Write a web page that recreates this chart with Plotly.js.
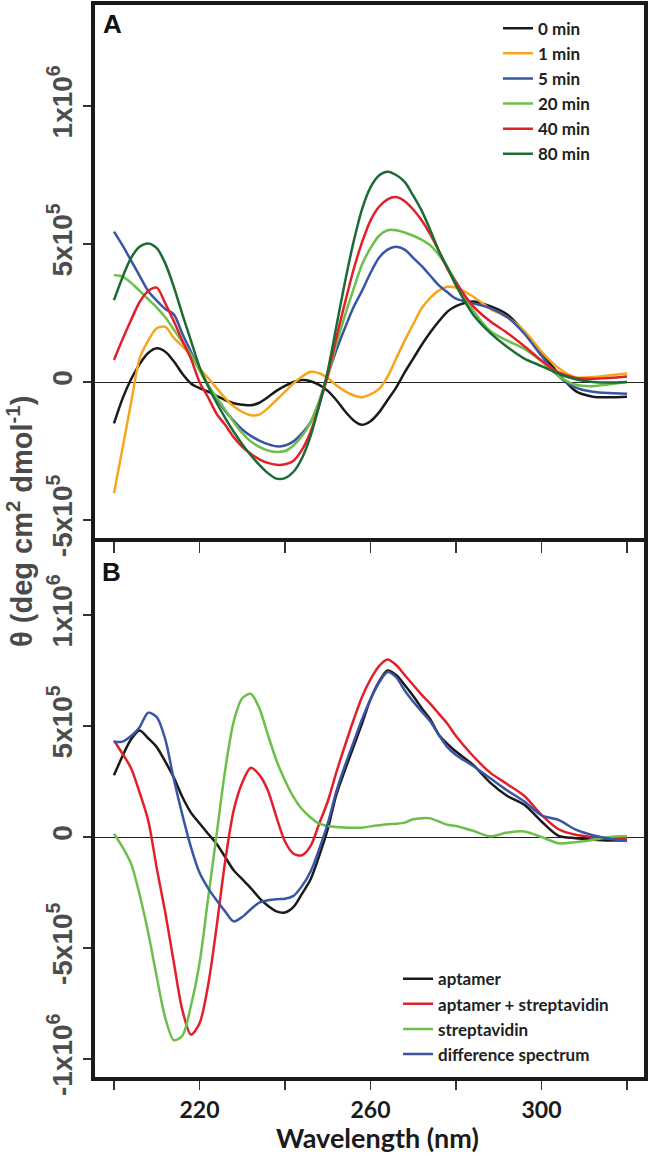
<!DOCTYPE html>
<html>
<head>
<meta charset="utf-8">
<script src="https://cdn.plot.ly/plotly-3.0.1.min.js"></script>
<style>
  html, body { margin: 0; padding: 0; background: #ffffff; }
  #chart { width: 650px; height: 1156px; }
</style>
</head>
<body>
<div id="chart"></div>
<script>
// Wavelength grid (nm)
const wavelength = [200,202,204,206,208,210,212,214,216,218,220,222,224,226,228,230,232,234,236,238,240,
  242,244,246,248,250,252,254,256,258,260,262,264,266,268,270,272,274,276,278,280,
  284,288,292,296,300,304,308,312,316,320];

// Panel A: ellipticity (x10^5 deg cm2 dmol-1) at each incubation time
const timeLabels = ['0 min', '1 min', '5 min', '20 min', '40 min', '80 min'];
const min0 = [-1.5,-0.6,0.1,0.65,1.05,1.22,1.1,0.75,0.3,-0.05,-0.22,-0.35,-0.5,-0.65,-0.77,-0.82,-0.84,-0.75,-0.55,-0.32,-0.14,
  0.0,0.07,0.03,-0.1,-0.32,-0.65,-1.05,-1.38,-1.55,-1.42,-1.1,-0.65,-0.2,0.35,0.85,1.35,1.8,2.2,2.55,2.75,
  2.92,2.75,2.45,1.82,1.08,0.3,-0.33,-0.53,-0.55,-0.53];
const min1 = [-4.03,-2.4,-0.75,0.85,1.5,1.95,2.0,1.6,1.3,0.95,0.5,0.15,-0.22,-0.58,-0.88,-1.08,-1.2,-1.18,-0.95,-0.65,-0.35,
  -0.05,0.2,0.37,0.32,0.15,-0.12,-0.33,-0.48,-0.55,-0.45,-0.25,0.2,0.85,1.5,2.1,2.68,3.05,3.32,3.45,3.42,
  3.1,2.65,2.35,1.85,1.1,0.5,0.17,0.18,0.25,0.31];
const min5 = [5.45,4.95,4.4,3.85,3.3,2.95,2.65,2.45,1.75,1.1,0.45,-0.1,-0.6,-1.05,-1.4,-1.72,-1.95,-2.12,-2.25,-2.33,-2.3,
  -2.15,-1.85,-1.45,-0.7,0.25,1.15,1.95,2.7,3.3,3.95,4.5,4.8,4.9,4.8,4.5,4.2,3.85,3.5,3.25,3.02,
  2.85,2.68,2.35,1.75,0.95,0.22,-0.2,-0.35,-0.4,-0.42];
const min20 = [3.88,3.82,3.6,3.3,3.0,2.7,2.35,1.9,1.45,1.0,0.42,-0.12,-0.55,-1.0,-1.45,-1.85,-2.15,-2.35,-2.48,-2.53,-2.5,
  -2.3,-1.95,-1.45,-0.7,0.2,1.35,2.4,3.35,4.25,4.85,5.3,5.5,5.5,5.42,5.3,5.15,4.95,4.6,4.15,3.65,
  2.6,1.85,1.5,1.2,0.75,0.22,-0.1,-0.15,-0.08,0.0];
const min40 = [0.8,1.55,2.25,2.9,3.3,3.42,2.85,2.2,1.5,0.85,0.0,-0.55,-1.15,-1.55,-2.0,-2.35,-2.6,-2.8,-2.93,-3.0,-2.98,
  -2.85,-2.45,-1.8,-0.85,0.25,1.6,2.85,4.05,5.05,5.85,6.35,6.62,6.7,6.55,6.25,5.85,5.35,4.75,4.1,3.6,
  2.75,2.2,1.78,1.3,0.78,0.35,0.15,0.12,0.15,0.2];
const min80 = [2.97,3.8,4.5,4.9,5.02,4.85,4.3,3.45,2.45,1.5,0.55,-0.15,-0.75,-1.3,-1.8,-2.25,-2.65,-3.0,-3.3,-3.5,-3.48,
  -3.25,-2.75,-1.95,-0.85,0.4,2.0,3.6,5.05,6.25,7.05,7.48,7.62,7.5,7.25,6.75,6.2,5.5,4.75,4.15,3.5,
  2.45,1.78,1.27,0.85,0.58,0.3,0.1,0.0,-0.02,0.0];

// Panel B: aptamer / streptavidin spectra (x10^5)
const sampleLabels = ['aptamer', 'aptamer + streptavidin', 'streptavidin', 'difference spectrum'];
const aptamer = [2.78,3.65,4.4,4.8,4.45,4.05,3.4,2.68,1.8,1.1,0.62,0.15,-0.3,-0.9,-1.5,-1.9,-2.3,-2.75,-3.1,-3.35,-3.4,
  -3.15,-2.55,-1.9,-0.85,0.35,1.9,3.0,4.05,5.1,6.2,7.0,7.5,7.3,6.85,6.35,5.8,5.3,4.6,4.2,3.85,
  3.25,2.45,1.85,1.45,0.7,0.05,-0.05,-0.12,-0.16,-0.15];
const aptStrep = [4.35,3.75,3.1,2.0,0.75,-1.4,-3.4,-5.65,-7.8,-8.9,-8.4,-6.7,-4.05,-1.1,1.2,2.45,3.12,2.8,2.1,0.9,-0.2,
  -0.75,-0.82,-0.4,0.6,1.6,2.9,4.1,5.25,6.3,7.1,7.7,8.0,7.75,7.3,6.85,6.4,6.0,5.55,5.1,4.55,
  3.65,2.9,2.38,1.85,1.0,0.35,0.1,0.0,-0.08,-0.08];
const strep = [0.15,-0.45,-1.2,-2.6,-4.3,-6.3,-8.15,-9.15,-8.95,-7.6,-5.7,-2.8,0.1,3.0,5.2,6.25,6.45,5.8,4.6,3.45,2.55,
  1.8,1.25,0.88,0.6,0.5,0.45,0.43,0.42,0.42,0.48,0.53,0.58,0.6,0.65,0.8,0.85,0.84,0.7,0.55,0.5,
  0.28,0.03,0.2,0.25,0.0,-0.28,-0.23,-0.13,0.0,0.03];
const difference = [4.28,4.3,4.55,4.95,5.6,5.4,4.4,2.6,1.0,-0.45,-1.6,-2.3,-2.85,-3.35,-3.8,-3.6,-3.25,-2.95,-2.85,-2.8,-2.78,
  -2.65,-2.2,-1.55,-0.55,0.6,2.05,3.2,4.25,5.3,6.2,6.95,7.43,7.2,6.6,6.1,5.65,5.2,4.6,4.05,3.7,
  3.2,2.65,2.1,1.6,0.98,0.77,0.33,0.08,-0.08,-0.18];

const xTickValsA = [200,220,240,260,280,300,320];
const xTickValsB = [220,260,300];
const xTickTextB = ['220','260','300'];
const yTickValsA = [-5,0,5,10];
const yTickTextA = ['-5x10<sup>5</sup>','0','5x10<sup>5</sup>','1x10<sup>6</sup>'];
const yTickValsB = [-10,-5,0,5,10];
const yTickTextB = ['-1x10<sup>6</sup>','-5x10<sup>5</sup>','0','5x10<sup>5</sup>','1x10<sup>6</sup>'];

const colorsA = ['#1a1a1a','#f7a51c','#3a55a5','#6cbf4a','#e2202a','#1c6b35'];
const colorsB = ['#1a1a1a','#e2202a','#6cbf4a','#3a55a5'];

const seriesA = [min0, min1, min5, min20, min40, min80];
const seriesB = [aptamer, aptStrep, strep, difference];

const traces = [];
seriesA.forEach((ys, i) => {
  traces.push({
    x: wavelength, y: ys, type: 'scatter', mode: 'lines', name: timeLabels[i],
    xaxis: 'x', yaxis: 'y', legend: 'legend', legendgroup: 'a' + i,
    line: { color: colorsA[i], width: 2.5, shape: 'spline', smoothing: 0.8 },
    hoverinfo: 'skip'
  });
});
seriesB.forEach((ys, i) => {
  traces.push({
    x: wavelength, y: ys, type: 'scatter', mode: 'lines', name: sampleLabels[i],
    xaxis: 'x2', yaxis: 'y2', legend: 'legend2', legendgroup: 'b' + i,
    line: { color: colorsB[i], width: 2.5, shape: 'spline', smoothing: 0.8 },
    hoverinfo: 'skip'
  });
});

const frame = '#1a1a1a';
const split = 0.5028;
const xRange = [195.56, 323.98];
const legendFont = { family: 'Lato, sans-serif', size: 17, weight: 'bold', color: '#222' };

const layout = {
  width: 650, height: 1156,
  margin: { l: 95, r: 6, t: 5, b: 79 },
  paper_bgcolor: '#ffffff', plot_bgcolor: '#ffffff',
  showlegend: true,
  xaxis: {
    domain: [0, 1], range: xRange, anchor: 'y',
    showline: true, linewidth: 4, linecolor: frame, mirror: true,
    ticks: 'outside', ticklen: 11, tickwidth: 1.5, tickcolor: '#333',
    tickvals: xTickValsA, showticklabels: false, showgrid: false, zeroline: false
  },
  yaxis: {
    domain: [split, 1], range: [-5.65, 13.66], anchor: 'x',
    showline: true, linewidth: 4, linecolor: frame, mirror: true,
    ticks: 'outside', ticklen: 8, tickwidth: 1.5, tickcolor: '#333',
    tickmode: 'array', tickvals: yTickValsA, ticktext: yTickTextA, tickangle: -90,
    tickfont: { family: 'Liberation Sans', size: 28, weight: 'bold', color: '#4d4d4d' },
    showgrid: false, zeroline: true, zerolinecolor: '#222', zerolinewidth: 1
  },
  xaxis2: {
    domain: [0, 1], range: xRange, anchor: 'y2',
    showline: true, linewidth: 4, linecolor: frame, mirror: false,
    ticks: 'outside', ticklen: 9, tickwidth: 1.5, tickcolor: '#333',
    tickvals: xTickValsB, ticktext: xTickTextB,
    minor: { tickvals: xTickValsA, ticks: 'outside', ticklen: 9, tickwidth: 1.5, tickcolor: '#333', showgrid: false },
    tickfont: { family: 'Lato, sans-serif', size: 23, weight: 'bold', color: '#1a1a1a' },
    showgrid: false, zeroline: false
  },
  yaxis2: {
    domain: [0, split], range: [-10.81, 13.47], anchor: 'x2',
    showline: true, linewidth: 4, linecolor: frame, mirror: true,
    ticks: 'outside', ticklen: 8, tickwidth: 1.5, tickcolor: '#333',
    tickmode: 'array', tickvals: yTickValsB, ticktext: yTickTextB, tickangle: -90,
    tickfont: { family: 'Liberation Sans', size: 28, weight: 'bold', color: '#4d4d4d' },
    showgrid: false, zeroline: true, zerolinecolor: '#222', zerolinewidth: 1
  },
  legend: {
    x: 0.734, y: 0.9947, xanchor: 'left', yanchor: 'top',
    bgcolor: 'rgba(0,0,0,0)', borderwidth: 0,
    traceorder: 'grouped', tracegroupgap: 0,
    font: legendFont
  },
  legend2: {
    x: 0.552, y: 0.108, xanchor: 'left', yanchor: 'top',
    bgcolor: 'rgba(0,0,0,0)', borderwidth: 0,
    traceorder: 'grouped', tracegroupgap: 0,
    font: legendFont
  },
  annotations: [
    { text: 'A', xref: 'paper', yref: 'paper', x: 0.031, y: 0.982, xanchor: 'center', yanchor: 'middle',
      showarrow: false, font: { family: 'Liberation Sans, Arial, sans-serif', size: 26, weight: 'bold', color: '#111' } },
    { text: 'B', xref: 'paper', yref: 'paper', x: 0.030, y: 0.471, xanchor: 'center', yanchor: 'middle',
      showarrow: false, font: { family: 'Liberation Sans, Arial, sans-serif', size: 26, weight: 'bold', color: '#111' } },
    { text: 'θ (deg cm<sup>2</sup> dmol<sup>-1</sup>)', xref: 'paper', yref: 'paper', x: -0.138, y: 0.518,
      xanchor: 'center', yanchor: 'middle', textangle: -90, showarrow: false,
      font: { family: 'Liberation Sans, Arial, sans-serif', size: 29, weight: 'bold', color: '#4a4a4a' } },
    { text: 'Wavelength (nm)', xref: 'paper', yref: 'paper', x: 0.515, y: -0.0569,
      xanchor: 'center', yanchor: 'middle', showarrow: false,
      font: { family: 'Lato, sans-serif', size: 27, weight: 'bold', color: '#1a1a1a' } }
  ]
};

Plotly.newPlot('chart', traces, layout, { staticPlot: true, displayModeBar: false });
</script>
</body>
</html>
